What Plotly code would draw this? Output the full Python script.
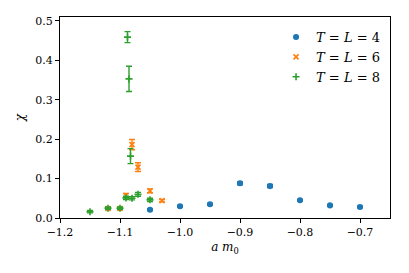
import plotly.graph_objects as go

# T = L = 4
x4 = [-1.05, -1.0, -0.95, -0.9, -0.85, -0.8, -0.75, -0.7]
chi4 = [0.021, 0.030, 0.035, 0.088, 0.081, 0.045, 0.032, 0.028]
err4 = [0.002, 0.002, 0.002, 0.004, 0.004, 0.002, 0.002, 0.002]

# T = L = 6
x6 = [-1.12, -1.1, -1.09, -1.08, -1.07, -1.05, -1.03]
chi6 = [0.024, 0.024, 0.057, 0.186, 0.129, 0.069, 0.044]
err6 = [0.003, 0.003, 0.005, 0.013, 0.011, 0.005, 0.003]

# T = L = 8
x8 = [-1.15, -1.12, -1.1, -1.09, -1.0875, -1.085, -1.0825, -1.08, -1.07, -1.05]
chi8 = [0.016, 0.025, 0.025, 0.051, 0.459, 0.353, 0.157, 0.050, 0.060, 0.046]
err8 = [0.003, 0.003, 0.003, 0.004, 0.014, 0.032, 0.019, 0.004, 0.005, 0.004]

xticks = [-1.2, -1.1, -1.0, -0.9, -0.8, -0.7]
yticks = [0.0, 0.1, 0.2, 0.3, 0.4, 0.5]

FONT = "DejaVu Serif, Liberation Serif, serif"

series = [
    ("<i>T</i> = <i>L</i> = 4", x4, chi4, err4, "#1f77b4", "circle", 4.5),
    ("<i>T</i> = <i>L</i> = 6", x6, chi6, err6, "#ff7f0e", "x-thin", 5),
    ("<i>T</i> = <i>L</i> = 8", x8, chi8, err8, "#2ca02c", "cross-thin", 5),
]

fig = go.Figure()
for name, xs, ys, es, col, sym, sz in series:
    fig.add_trace(go.Scatter(
        x=xs, y=ys, mode="markers", name=name,
        marker=dict(symbol=sym, size=sz, color=col,
                    line=dict(color=col, width=1.6)),
        error_y=dict(type="data", array=es, visible=True, color=col,
                     thickness=1.4, width=3),
    ))

axis_common = dict(
    showgrid=False, zeroline=False, showline=True, mirror=True,
    linecolor="black", linewidth=1, ticks="outside", ticklen=4,
    tickwidth=1, tickcolor="black",
    tickfont=dict(family=FONT, size=11, color="black"),
)

fig.update_layout(
    width=409, height=273,
    margin=dict(l=60, r=19, t=17, b=55),
    paper_bgcolor="white", plot_bgcolor="white",
    font=dict(family=FONT, size=11, color="black"),
    showlegend=True,
    legend=dict(x=0.985, y=0.975, xanchor="right", yanchor="top",
                bgcolor="rgba(255,255,255,0.8)", borderwidth=0,
                font=dict(family=FONT, size=13), itemwidth=30,
                tracegroupgap=0),
    xaxis=dict(range=[-1.2, -0.65], tickvals=xticks,
               ticktext=[f"\u2212{abs(v):.1f}" for v in xticks],
               title=dict(text="<i>a m</i><sub>0</sub>", standoff=4,
                          font=dict(family=FONT, size=12)),
               **axis_common),
    yaxis=dict(range=[0, 0.51], tickvals=yticks,
               ticktext=[f"{v:.1f}" for v in yticks],
               title=dict(text="<i>\u03c7</i>", standoff=8,
                          font=dict(family=FONT, size=12)),
               **axis_common),
)

fig.write_html("out.html", config={"displayModeBar": False},
               post_script="document.body.style.margin='0';document.body.style.padding='0';")
